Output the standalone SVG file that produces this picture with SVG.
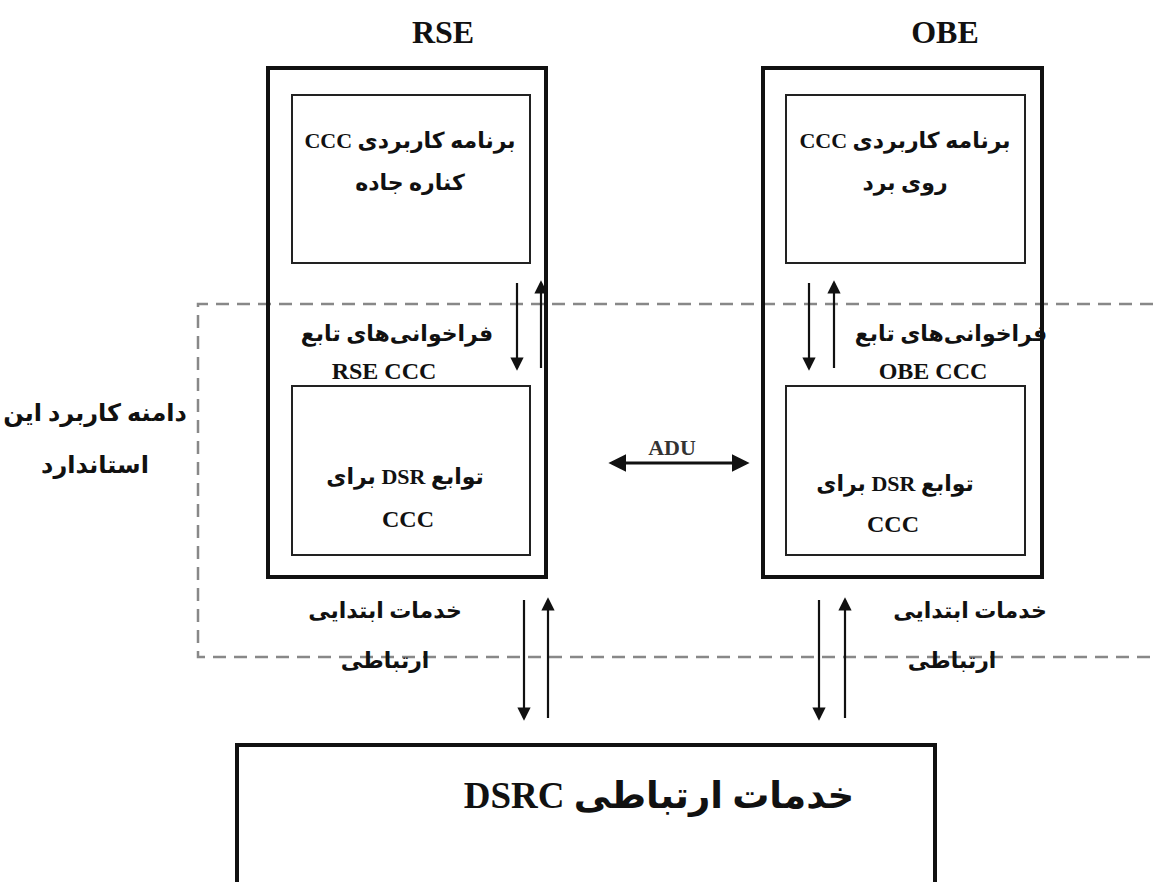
<svg xmlns="http://www.w3.org/2000/svg" width="1153" height="882" viewBox="0 0 1153 882">
<defs>
<marker id="ah" viewBox="0 0 10 10" refX="8" refY="5" markerWidth="7" markerHeight="6" orient="auto-start-reverse" markerUnits="strokeWidth">
<path d="M0,0 L10,5 L0,10 z" fill="#111"/>
</marker>
<marker id="ah2" viewBox="0 0 10 10" refX="8" refY="5" markerWidth="6" markerHeight="6" orient="auto-start-reverse" markerUnits="strokeWidth">
<path d="M0,0 L10,5 L0,10 z" fill="#111"/>
</marker>
<style>
.outer{fill:none;stroke:#111;stroke-width:4}
.inner{fill:none;stroke:#222;stroke-width:2}
.t{font-family:"Liberation Serif","DejaVu Sans",serif;font-weight:bold;fill:#111;text-anchor:middle}
.fa{font-size:22px;direction:rtl}
.la{font-size:24px}
.hd{font-size:32px}
.ar{stroke:#111;stroke-width:2.2;fill:none}
.dash{fill:none;stroke:#888;stroke-width:2.5;stroke-dasharray:13 8}
</style>
</defs>
<rect width="1153" height="882" fill="#fff"/>
<g id="scope">
<path class="dash" d="M1153,304 H198 V657 H1153"/>
<text class="t fa" x="95" y="421" style="font-size:24px">دامنه کاربرد این</text>
<text class="t fa" x="95" y="473" style="font-size:24px">استاندارد</text>
</g>
<g id="rse">
<text class="t hd" x="443" y="43">RSE</text>
<rect class="outer" x="268" y="68" width="278" height="509"/>
</g>
<g id="rse-app">
<rect class="inner" x="292" y="95" width="238" height="168"/>
<text class="t fa" x="410" y="148">برنامه کاربردی CCC</text>
<text class="t fa" x="410" y="190">کناره جاده</text>
</g>
<g id="rse-calls">
<text class="t fa" x="397" y="341">فراخوانی‌های تابع</text>
<text class="t la" x="384" y="379">RSE CCC</text>
</g>
<g id="rse-dsr">
<rect class="inner" x="292" y="386" width="238" height="169"/>
<text class="t fa" x="405" y="484">توابع DSR برای</text>
<text class="t la" x="408" y="527">CCC</text>
</g>
<g id="rse-prim">
<text class="t fa" x="385" y="618">خدمات ابتدایی</text>
<text class="t fa" x="385" y="668">ارتباطی</text>
</g>
<g id="obe">
<text class="t hd" x="945" y="43">OBE</text>
<rect class="outer" x="763" y="68" width="279" height="509"/>
</g>
<g id="obe-app">
<rect class="inner" x="786" y="95" width="239" height="168"/>
<text class="t fa" x="905" y="148">برنامه کاربردی CCC</text>
<text class="t fa" x="905" y="190">روی برد</text>
</g>
<g id="obe-calls">
<text class="t fa" x="951" y="341">فراخوانی‌های تابع</text>
<text class="t la" x="933" y="379">OBE CCC</text>
</g>
<g id="obe-dsr">
<rect class="inner" x="786" y="386" width="239" height="169"/>
<text class="t fa" x="895" y="491">توابع DSR برای</text>
<text class="t la" x="893" y="532">CCC</text>
</g>
<g id="obe-prim">
<text class="t fa" x="970" y="618">خدمات ابتدایی</text>
<text class="t fa" x="952" y="668">ارتباطی</text>
</g>
<g id="dsrc">
<rect class="outer" x="237" y="745" width="698" height="140"/>
<text class="t fa" x="659" y="808" style="font-size:37px">خدمات ارتباطی DSRC</text>
</g>
<g id="connectors">
<line class="ar" x1="517" y1="283" x2="517" y2="368" marker-end="url(#ah)"/>
<line class="ar" x1="541" y1="368" x2="541" y2="283" marker-end="url(#ah)"/>
<line class="ar" x1="809" y1="283" x2="809" y2="368" marker-end="url(#ah)"/>
<line class="ar" x1="834" y1="368" x2="834" y2="283" marker-end="url(#ah)"/>
<line class="ar" x1="524" y1="600" x2="524" y2="718" marker-end="url(#ah)"/>
<line class="ar" x1="548" y1="718" x2="548" y2="600" marker-end="url(#ah)"/>
<line class="ar" x1="819" y1="600" x2="819" y2="718" marker-end="url(#ah)"/>
<line class="ar" x1="845" y1="718" x2="845" y2="600" marker-end="url(#ah)"/>
<line x1="612" y1="463" x2="746" y2="463" stroke="#111" stroke-width="3" marker-start="url(#ah2)" marker-end="url(#ah2)"/>
<text x="672" y="455" font-family="Liberation Serif, serif" font-size="22" font-weight="bold" fill="#333" text-anchor="middle">ADU</text>
</g>
</svg>
